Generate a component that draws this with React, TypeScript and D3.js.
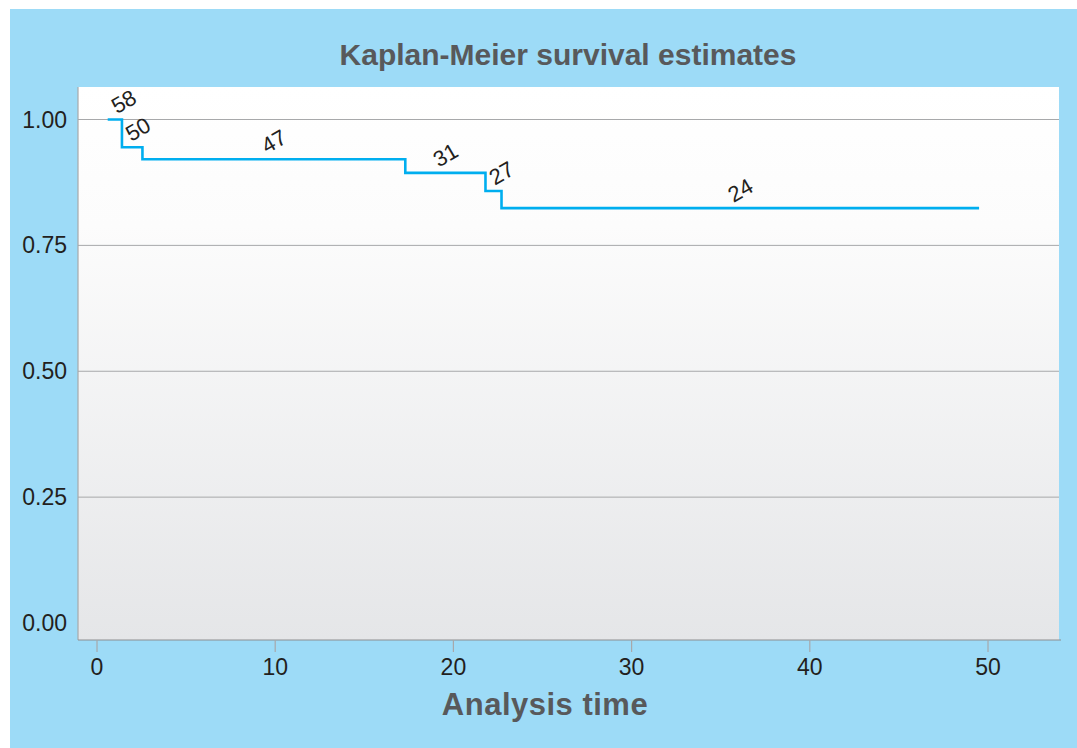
import React, { useEffect, useRef } from 'react';
import * as d3 from 'd3';

// step times (x) and survival after each step
const stepTimes = [0.6, 1.4, 2.55, 17.3, 21.8, 22.7];
const survival = [1.0, 0.945, 0.921, 0.894, 0.858, 0.824];
const endTime = 49.5;
const atRisk = ['58', '50', '47', '31', '27', '24'];
const xTicks = [0, 10, 20, 30, 40, 50];
const yTicks = [0, 0.25, 0.5, 0.75, 1];

const W = 1077;
const H = 748;

const KMChart: React.FC = () => {
  const svgRef = useRef<SVGSVGElement>(null);

  useEffect(() => {
    const svg = d3.select(svgRef.current);
    svg.selectAll('*').remove();

    const plot = { left: 78, right: 1059, top: 87, bottom: 640 };

    const x = d3.scaleLinear().domain([0, 50]).range([97, 988]);
    const y = d3.scaleLinear().domain([0, 1]).range([623, 119.5]);

    const font = 'Liberation Sans, Arial, Helvetica, sans-serif';

    // background panel
    svg.append('rect')
      .attr('x', 10).attr('y', 9)
      .attr('width', W - 10).attr('height', H - 9)
      .attr('fill', '#9ddbf7');

    const defs = svg.append('defs');
    const grad = defs.append('linearGradient')
      .attr('id', 'plotbg')
      .attr('x1', 0).attr('y1', 0).attr('x2', 0).attr('y2', 1);
    grad.append('stop').attr('offset', '0%').attr('stop-color', '#ffffff');
    grad.append('stop').attr('offset', '25%').attr('stop-color', '#fcfcfc');
    grad.append('stop').attr('offset', '100%').attr('stop-color', '#e5e6e8');

    svg.append('rect')
      .attr('x', plot.left).attr('y', plot.top)
      .attr('width', plot.right - plot.left)
      .attr('height', plot.bottom - plot.top)
      .attr('fill', 'url(#plotbg)');

    // gridlines
    svg.append('g')
      .selectAll('line')
      .data(yTicks.filter(d => d > 0))
      .enter()
      .append('line')
      .attr('x1', plot.left).attr('x2', plot.right)
      .attr('y1', d => y(d)).attr('y2', d => y(d))
      .attr('stroke', '#a7a8aa')
      .attr('stroke-width', 1);

    // axis lines
    svg.append('line')
      .attr('x1', plot.left).attr('x2', plot.left)
      .attr('y1', plot.top).attr('y2', plot.bottom)
      .attr('stroke', '#a7a8aa').attr('stroke-width', 1.2);
    svg.append('line')
      .attr('x1', plot.left).attr('x2', plot.right + 2)
      .attr('y1', plot.bottom).attr('y2', plot.bottom)
      .attr('stroke', '#8d8e90').attr('stroke-width', 1.2);

    // x ticks
    const xt = svg.append('g');
    xt.selectAll('line')
      .data(xTicks)
      .enter()
      .append('line')
      .attr('x1', d => x(d)).attr('x2', d => x(d))
      .attr('y1', plot.bottom).attr('y2', plot.bottom + 12)
      .attr('stroke', '#a7a8aa').attr('stroke-width', 1.2);
    xt.selectAll('text')
      .data(xTicks)
      .enter()
      .append('text')
      .attr('x', d => x(d))
      .attr('y', 675)
      .attr('text-anchor', 'middle')
      .style('font-family', font)
      .style('font-size', '23px')
      .style('fill', '#231f20')
      .text(d => String(d));

    // y tick labels
    svg.append('g')
      .selectAll('text')
      .data(yTicks)
      .enter()
      .append('text')
      .attr('x', 67)
      .attr('y', d => y(d) + 8)
      .attr('text-anchor', 'end')
      .style('font-family', font)
      .style('font-size', '23px')
      .style('fill', '#231f20')
      .text(d => d3.format('.2f')(d));

    // step curve
    const pts: [number, number][] = [];
    stepTimes.forEach((t, i) => {
      pts.push([t, survival[i]]);
    });
    pts.push([endTime, survival[survival.length - 1]]);
    const line = d3.line<[number, number]>()
      .x(d => x(d[0]))
      .y(d => y(d[1]))
      .curve(d3.curveStepAfter);
    svg.append('path')
      .datum(pts)
      .attr('fill', 'none')
      .attr('stroke', '#00aeef')
      .attr('stroke-width', 2.6)
      .attr('d', line);

    // number-at-risk labels
    atRisk.forEach((lab, i) => {
      const t0 = stepTimes[i];
      const t1 = i < stepTimes.length - 1 ? stepTimes[i + 1] : endTime;
      const lx = Math.max((x(t0) + x(t1)) / 2, x(t0) + 16);
      const ly = y(survival[i]) - 18;
      svg.append('text')
        .attr('transform', `translate(${lx},${ly}) rotate(-30)`)
        .attr('text-anchor', 'middle')
        .attr('dy', '0.35em')
        .style('font-family', font)
        .style('font-size', '22px')
        .style('fill', '#231f20')
        .text(lab);
    });

    // title
    svg.append('text')
      .attr('x', 568).attr('y', 65)
      .attr('text-anchor', 'middle')
      .style('font-family', font)
      .style('font-size', '30px')
      .style('font-weight', 'bold')
      .style('fill', '#58595b')
      .text('Kaplan-Meier survival estimates');

    // x axis title
    svg.append('text')
      .attr('x', 545).attr('y', 715)
      .attr('text-anchor', 'middle')
      .style('font-family', font)
      .style('font-size', '31px')
      .style('font-weight', 'bold')
      .style('letter-spacing', '0.5px')
      .style('fill', '#58595b')
      .text('Analysis time');
  }, []);

  return <svg ref={svgRef} width={W} height={H} style={{ display: 'block' }}></svg>;
};

export default function App() {
  return (
    <div style={{ position: 'absolute', left: 0, top: 0, background: '#fff' }}>
      <KMChart />
    </div>
  );
}
